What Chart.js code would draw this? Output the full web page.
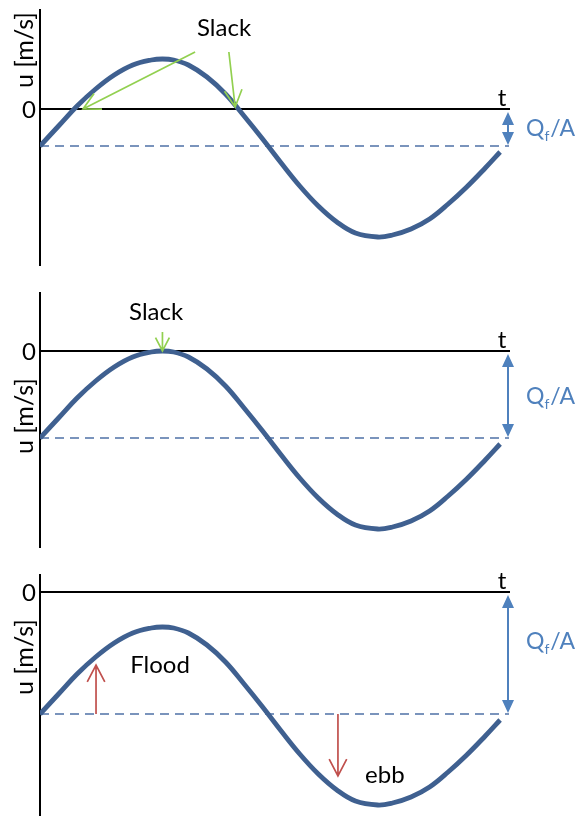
<!DOCTYPE html>
<html>
<head>
<meta charset="utf-8">
<script src="https://cdn.jsdelivr.net/npm/chart.js@4.4.1/dist/chart.umd.min.js"></script>
<style>
  html, body { margin: 0; padding: 0; background: #fff; }
  body { width: 577px; height: 816px; position: relative; overflow: hidden; }
  canvas { position: absolute; left: 0; }
</style>
</head>
<body>
<canvas id="p1" width="577" height="272" style="top:0px"></canvas>
<canvas id="p2" width="577" height="272" style="top:280px"></canvas>
<canvas id="p3" width="577" height="256" style="top:560px"></canvas>
<script>
// time in hours, velocity in m/s
const hours = [0, 0.5, 1, 1.5, 2, 2.5, 3, 3.3, 3.6, 4, 4.5, 5, 5.5, 6, 6.5, 7, 7.5, 8, 8.5, 9.1, 9.5, 10, 10.5, 11, 11.5, 12, 12.4];
const uPanel1 = [-0.37, -0.17, 0.03, 0.20, 0.34, 0.44, 0.49, 0.50, 0.49, 0.44, 0.32, 0.15, -0.07, -0.30, -0.54, -0.77, -0.97, -1.13, -1.24, -1.28, -1.26, -1.20, -1.10, -0.95, -0.78, -0.59, -0.43];
const uPanel2 = [-0.87, -0.67, -0.47, -0.30, -0.16, -0.06, -0.01, 0.0, -0.01, -0.06, -0.18, -0.35, -0.57, -0.80, -1.04, -1.27, -1.47, -1.63, -1.74, -1.78, -1.76, -1.70, -1.60, -1.45, -1.28, -1.09, -0.93];
const uPanel3 = [-1.22, -1.02, -0.82, -0.65, -0.51, -0.41, -0.36, -0.35, -0.36, -0.41, -0.53, -0.70, -0.92, -1.15, -1.39, -1.62, -1.82, -1.98, -2.09, -2.13, -2.11, -2.05, -1.95, -1.80, -1.63, -1.44, -1.28];
// river discharge offset -Qf/A per panel
const meanFlow = [-0.37, -0.87, -1.22];
const yTickLabels = ['0'];
const axisTitles = ['u [m/s]', 't'];
const tMax = 12.64;

const FONT = "Lato, 'Open Sans', sans-serif";
const CURVE = '#3f6090';
const DASH = '#4f72a6';
const QBLUE = '#4f81bd';
const GREEN = '#92d050';
const RED = '#c0504d';

function openArrow(ctx, x1, y1, x2, y2, len, ang) {
  ctx.beginPath();
  ctx.moveTo(x1, y1);
  ctx.lineTo(x2, y2);
  const a = Math.atan2(y1 - y2, x1 - x2);
  ctx.moveTo(x2 + len * Math.cos(a + ang), y2 + len * Math.sin(a + ang));
  ctx.lineTo(x2, y2);
  ctx.lineTo(x2 + len * Math.cos(a - ang), y2 + len * Math.sin(a - ang));
  ctx.stroke();
}

const sketch = {
  id: 'sketch',
  afterDraw(chart, args, opts) {
    const ctx = chart.ctx;
    const xs = chart.scales.x, ys = chart.scales.y;
    const px = v => xs.getPixelForValue(v);
    const py = v => ys.getPixelForValue(v);
    const left = chart.chartArea.left, right = chart.chartArea.right;
    const y0 = py(0), ym = py(opts.mean);
    ctx.save();

    // tick "0" and titles
    ctx.fillStyle = '#000';
    ctx.font = '24px ' + FONT;
    ctx.textAlign = 'right';
    ctx.textBaseline = 'middle';
    ctx.fillText(yTickLabels[0], left - 4, y0 + 1);
    ctx.textAlign = 'center';
    ctx.textBaseline = 'bottom';
    ctx.fillText(axisTitles[1], right - 7, y0 + 1);
    ctx.save();
    ctx.translate(left - 15, py(opts.titleU));
    ctx.rotate(-Math.PI / 2);
    ctx.textBaseline = 'middle';
    ctx.font = '25px ' + FONT;
    ctx.fillText(axisTitles[0], 0, 0);
    ctx.restore();

    // Qf/A double arrow
    const ax = right - 1;
    ctx.strokeStyle = QBLUE;
    ctx.fillStyle = QBLUE;
    ctx.lineWidth = 2;
    const top = y0 + 3, bot = ym - 1;
    ctx.beginPath();
    ctx.moveTo(ax, top + 10);
    ctx.lineTo(ax, bot - 10);
    ctx.stroke();
    ctx.beginPath();
    ctx.moveTo(ax, top); ctx.lineTo(ax - 6, top + 13); ctx.lineTo(ax + 6, top + 13); ctx.closePath();
    ctx.moveTo(ax, bot); ctx.lineTo(ax - 6, bot - 13); ctx.lineTo(ax + 6, bot - 13); ctx.closePath();
    ctx.fill();

    const qy = py(opts.qU);
    let tx = right + 17;
    ctx.textAlign = 'left';
    ctx.textBaseline = 'middle';
    ctx.font = '23px ' + FONT;
    ctx.fillText('Q', tx, qy);
    tx += ctx.measureText('Q').width;
    ctx.font = '14px ' + FONT;
    ctx.fillText('f', tx, qy + 7);
    tx += ctx.measureText('f').width + 1;
    ctx.font = '23px ' + FONT;
    ctx.fillText('/A', tx, qy);

    // notes
    opts.notes.forEach(n => {
      if (n.kind === 'text') {
        ctx.fillStyle = '#000';
        ctx.font = '24px ' + FONT;
        ctx.textAlign = n.align || 'center';
        ctx.textBaseline = 'middle';
        ctx.fillText(n.text, px(n.at[0]), py(n.at[1]));
      } else {
        ctx.strokeStyle = n.color;
        ctx.lineWidth = 1.7;
        openArrow(ctx, px(n.from[0]), py(n.from[1]), px(n.to[0]), py(n.to[1]), n.len || 19, 0.48);
      }
    });
    ctx.restore();
  }
};

function makePanel(id, values, mean, yMin, yMax, pad, extra) {
  const curve = hours.map((t, i) => ({ x: t, y: values[i] }));
  return new Chart(document.getElementById(id), {
    type: 'line',
    data: {
      datasets: [
        {
          data: curve,
          borderColor: CURVE,
          borderWidth: 4.8,
          pointRadius: 0,
          tension: 0.4,
          borderCapStyle: 'butt'
        },
        {
          data: [{ x: 0, y: mean }, { x: tMax, y: mean }],
          borderColor: DASH,
          borderWidth: 1.7,
          borderDash: [9, 6],
          pointRadius: 0
        }
      ]
    },
    options: {
      responsive: false,
      animation: false,
      events: [],
      layout: { padding: pad },
      scales: {
        x: {
          type: 'linear',
          min: 0,
          max: tMax,
          position: { y: 0 },
          grid: { display: false, drawTicks: false },
          ticks: { display: false },
          border: { display: true, color: '#000', width: 2 }
        },
        y: {
          min: yMin,
          max: yMax,
          grid: { display: false, drawTicks: false },
          ticks: { display: false },
          border: { display: true, color: '#000', width: 2 }
        }
      },
      plugins: {
        legend: { display: false },
        tooltip: { enabled: false },
        sketch: Object.assign({ mean: mean }, extra)
      }
    },
    plugins: [sketch]
  });
}

makePanel('p1', uPanel1, meanFlow[0], -1.56, 0.99, { top: 10, bottom: 7, left: 40, right: 68 }, {
  titleU: 0.59,
  qU: -0.20,
  notes: [
    { kind: 'text', text: 'Slack', at: [4.96, 0.81] },
    { kind: 'arrow', color: GREEN, from: [4.18, 0.57], to: [1.16, 0] },
    { kind: 'arrow', color: GREEN, from: [5.09, 0.57], to: [5.26, 0.02] }
  ]
});

makePanel('p2', uPanel2, meanFlow[1], -1.96, 0.58, { top: 13, bottom: 5, left: 40, right: 68 }, {
  titleU: -0.65,
  qU: -0.46,
  notes: [
    { kind: 'text', text: 'Slack', at: [3.13, 0.39] },
    { kind: 'arrow', color: GREEN, from: [3.3, 0.19], to: [3.3, 0.0], len: 15 }
  ]
});

makePanel('p3', uPanel3, meanFlow[2], -2.24, 0.17, { top: 15, bottom: 0, left: 40, right: 68 }, {
  titleU: -0.65,
  qU: -0.50,
  notes: [
    { kind: 'arrow', color: RED, from: [1.51, -1.22], to: [1.51, -0.73] },
    { kind: 'text', text: 'Flood', at: [2.43, -0.73], align: 'left' },
    { kind: 'arrow', color: RED, from: [8.03, -1.22], to: [8.03, -1.84] },
    { kind: 'text', text: 'ebb', at: [8.76, -1.83], align: 'left' }
  ]
});
</script>
</body>
</html>
